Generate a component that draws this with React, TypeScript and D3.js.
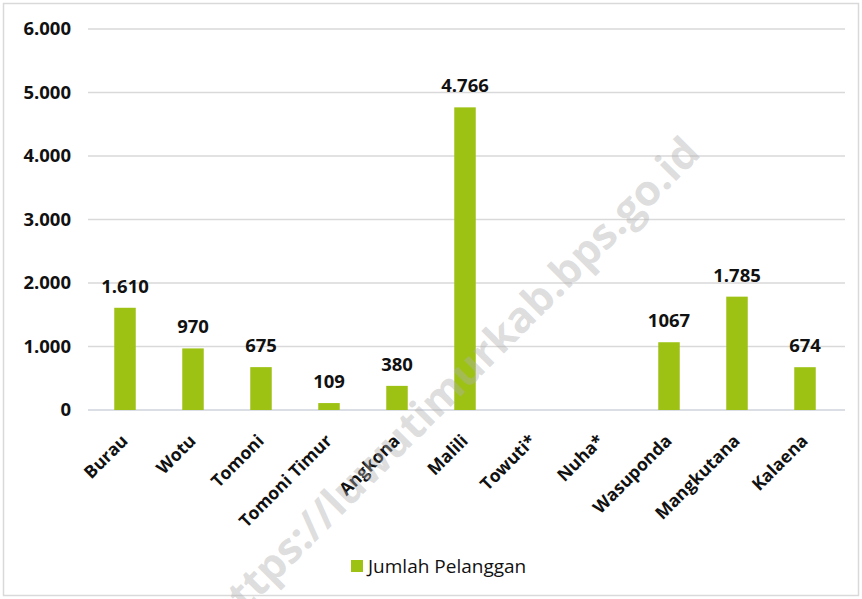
import React from 'react';
import * as d3 from 'd3';

const categories = ['Burau', 'Wotu', 'Tomoni', 'Tomoni Timur', 'Angkona', 'Malili', 'Towuti*', 'Nuha*', 'Wasuponda', 'Mangkutana', 'Kalaena'];
const values: (number | null)[] = [1610, 970, 675, 109, 380, 4766, null, null, 1067, 1785, 674];
const valueLabels = ['1.610', '970', '675', '109', '380', '4.766', '', '', '1067', '1.785', '674'];
const yTicks = [0, 1000, 2000, 3000, 4000, 5000, 6000];
const seriesName = 'Jumlah Pelanggan';
const watermark = 'https://luwutimurkab.bps.go.id';

const W = 862;
const H = 599;
const FONT = '"Open Sans", "Noto Sans", sans-serif';
const GREEN = '#9dc213';

const fmt = (v: number) => (v === 0 ? '0' : d3.format(',')(v).replace(/,/g, '.'));

const App = () => {
  const y = d3.scaleLinear().domain([0, 6000]).range([410, 29]);
  const x = d3.scaleBand<string>().domain(categories).range([91, 839]).paddingInner(0.684).paddingOuter(0.342);
  const gridX0 = 88;
  const gridX1 = 845;

  return (
    <svg width={W} height={H} style={{ position: 'absolute', left: 0, top: 0 }} fontFamily={FONT}>
      <rect x={0} y={0} width={W} height={H} fill="#fff" />
      <rect x={3.5} y={3.5} width={855} height={592} fill="none" stroke="#d9d9d9" strokeWidth={1.5} />

      {/* gridlines + y labels */}
      {yTicks.map(t => (
        <g key={t}>
          <line x1={gridX0} x2={gridX1} y1={y(t)} y2={y(t)} stroke={t === 0 ? '#cfd3dc' : '#d9d9d9'} strokeWidth={1.3} />
          <text x={71} y={y(t)} dy="0.35em" textAnchor="end" fontSize={18.5} fontWeight={700} fill="#111">
            {fmt(t)}
          </text>
        </g>
      ))}

      {/* bars */}
      {categories.map((c, i) => {
        const v = values[i];
        if (v == null) return null;
        const bx = x(c) as number;
        return (
          <g key={c}>
            <rect x={bx} y={y(v)} width={x.bandwidth()} height={y(0) - y(v)} fill={GREEN} />
            <text x={bx + x.bandwidth() / 2} y={y(v) - 15} textAnchor="middle" fontSize={18.5} fontWeight={700} fill="#111">
              {valueLabels[i]}
            </text>
          </g>
        );
      })}

      {/* x labels */}
      {categories.map(c => {
        const cx = (x(c) as number) + x.bandwidth() / 2;
        return (
          <text key={c} transform={`translate(${cx + 4},${442}) rotate(-45)`} textAnchor="end" fontSize={17.5} fontWeight={700} fill="#111">
            {c}
          </text>
        );
      })}

      {/* legend */}
      <rect x={351} y={560} width={12} height={12} fill={GREEN} />
      <text x={368} y={573} fontSize={19} fill="#111">{seriesName}</text>

      {/* watermark */}
      <text
        transform="translate(452,382) rotate(-45)"
        textAnchor="middle"
        dominantBaseline="central"
        fontSize={42}
        fontWeight={700}
        textLength={675}
        lengthAdjust="spacingAndGlyphs"
        fill="#b0b0b0"
        fillOpacity={0.42}
      >
        {watermark}
      </text>
    </svg>
  );
};

export default App;
